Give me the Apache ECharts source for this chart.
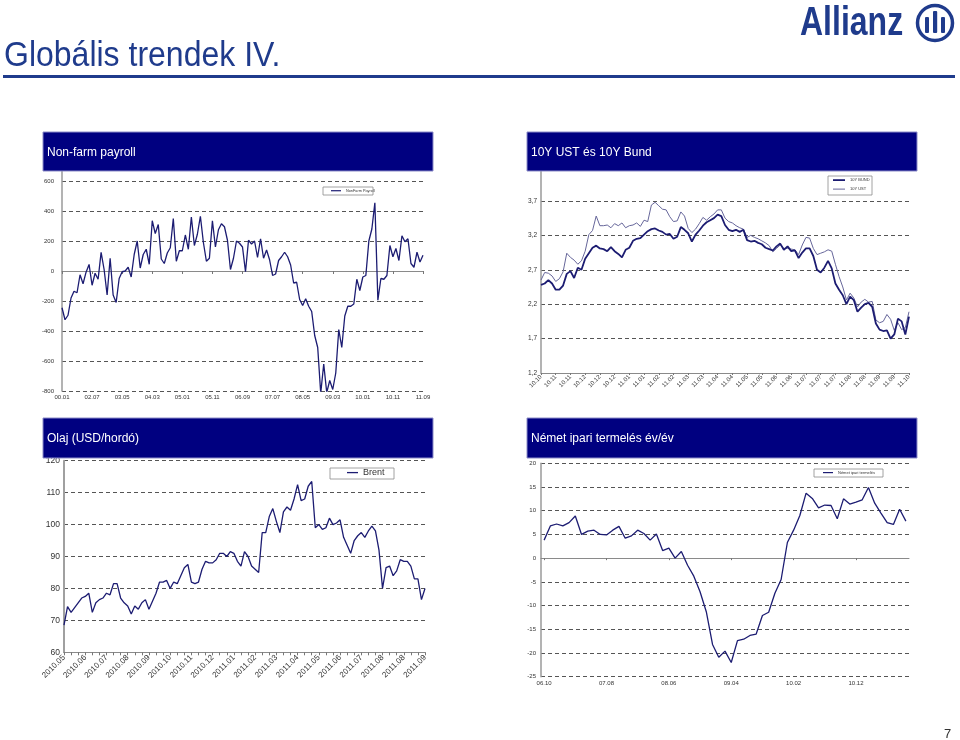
<!DOCTYPE html>
<html><head><meta charset="utf-8">
<script src="https://cdn.jsdelivr.net/npm/echarts@6/dist/echarts.min.js"></script>
<style>html,body{margin:0;padding:0;background:#fff}#c{width:960px;height:740px}</style>
</head><body><div id="c"></div>
<script>
// ---------- DATA ----------
const payrollValues = [
 -245,-325,-295,-180,-135,-145,-25,-85,-8,44,
 -95,-15,-55,124,10,-160,85,-160,-210,-50,
 -5,0,25,-40,110,200,20,110,145,45,
 335,250,310,80,50,120,155,350,65,135,
 135,240,145,360,170,245,365,190,65,85,
 335,160,275,315,295,205,10,85,200,185,
 160,-5,205,180,200,90,215,85,140,75,
 -30,-20,70,95,125,95,40,-80,-75,-190,
 -230,-185,-235,-270,-430,-510,-815,-620,-810,-730,
 -790,-680,-390,-510,-300,-235,-235,-220,-55,-130,
 -40,-30,200,280,455,-195,-50,-55,-30,170,
 95,150,70,235,195,215,50,25,125,60,
 105];
const payrollTickLabels = ["00.01","02.07","03.05","04.03","05.01","05.11","06.09","07.07","08.05","09.03","10.01","10.11","11.09"];

const bundValues = [
 2.48,2.50,2.55,2.50,2.41,2.41,2.47,2.64,2.68,2.58,
 2.73,2.70,2.86,2.94,3.02,3.05,3.01,3.00,2.97,3.03,
 2.97,2.93,2.88,2.99,3.02,3.12,3.15,3.16,3.21,3.26,
 3.29,3.30,3.27,3.25,3.21,3.22,3.15,3.18,3.32,3.28,
 3.23,3.11,3.21,3.27,3.34,3.39,3.42,3.45,3.50,3.48,
 3.35,3.28,3.26,3.28,3.25,3.28,3.13,3.11,3.12,3.09,
 3.07,3.02,3.00,2.98,3.04,3.08,2.99,3.04,2.97,2.98,
 2.87,2.95,3.01,3.01,2.90,2.70,2.66,2.73,2.83,2.72,
 2.50,2.41,2.33,2.20,2.31,2.26,2.09,2.15,2.20,2.22,
 2.16,1.92,1.83,1.81,1.82,1.70,1.76,1.99,1.95,1.76,
 2.02];
const ustValues = [
 2.55,2.66,2.65,2.61,2.53,2.57,2.67,2.94,2.88,2.84,
 2.78,2.83,2.97,3.21,3.27,3.48,3.34,3.34,3.35,3.31,
 3.37,3.34,3.38,3.31,3.34,3.35,3.38,3.33,3.42,3.40,
 3.64,3.68,3.63,3.58,3.57,3.47,3.40,3.41,3.54,3.48,
 3.30,3.24,3.29,3.37,3.46,3.42,3.47,3.51,3.57,3.57,
 3.45,3.40,3.38,3.34,3.31,3.29,3.17,3.20,3.17,3.15,
 3.12,3.09,3.05,2.96,3.01,3.06,3.01,3.01,3.00,2.99,
 2.92,3.06,3.17,3.16,3.01,2.92,2.94,2.96,2.99,2.97,
 2.78,2.60,2.45,2.26,2.36,2.29,2.16,2.23,2.27,2.23,
 2.24,1.97,1.93,1.95,2.05,1.98,1.82,1.93,1.83,1.86,
 2.09];
const yieldTickLabels = ["10.10","10.11","10.11","10.12","10.12","10.12","11.01","11.01","11.02","11.02","11.03","11.03","11.04","11.04","11.05","11.05","11.06","11.06","11.07","11.07","11.07","11.08","11.08","11.09","11.09","11.10"];

const brentValues = [
 68.5,74.3,72.5,74.0,75.5,77.0,77.5,78.5,72.5,75.5,
 76.5,77.0,78.5,78.0,81.5,81.5,77.0,75.5,74.5,72.0,
 74.5,73.5,75.5,76.5,73.5,76.0,78.5,82.0,82.0,82.5,
 80.0,82.0,81.5,84.0,86.5,87.5,82.0,81.5,82.0,86.0,
 88.5,88.0,88.0,89.0,91.0,91.0,90.0,91.5,91.0,88.5,
 87.0,91.5,90.0,87.0,86.0,85.0,97.5,97.5,102.5,105.0,
 101.0,97.5,104.0,105.5,104.5,108.0,112.5,107.5,108.0,112.0,
 113.5,99.0,100.0,98.5,99.0,102.0,100.0,100.5,101.5,96.0,
 93.5,91.0,95.0,96.5,97.5,96.0,98.0,99.5,98.0,92.0,
 80.0,86.5,87.0,84.0,85.5,89.0,88.5,88.5,87.0,83.0,
 83.0,76.5,80.0];
const brentTickLabels = ["2010.05","2010.06","2010.07","2010.08","2010.09","2010.10","2010.11","2010.12","2011.01","2011.02","2011.03","2011.04","2011.05","2011.06","2011.07","2011.08","2011.08","2011.09"];

const germanIpValues = [
 3.8,6.8,7.2,6.8,7.5,8.9,5.0,5.7,5.9,5.0,
 4.9,5.9,6.7,4.2,4.7,5.9,5.2,3.8,5.1,1.6,
 2.1,0.0,1.4,-1.5,-3.8,-7.1,-11.3,-18.2,-20.9,-19.6,
 -22.0,-17.4,-17.1,-16.3,-16.0,-12.1,-11.4,-7.4,-4.5,3.3,
 5.9,9.0,13.7,12.6,10.6,11.2,11.1,8.3,12.5,11.4,
 11.8,12.3,14.9,11.6,9.5,7.5,7.1,10.3,7.8];
const germanTickLabels = ["06.10","07.08","08.06","09.04","10.02","10.12"];

// ---------- STYLE ----------
const FONT = '"Liberation Sans", Arial, sans-serif';
const NAVY = '#1c1c72';
const USTC = '#66669a';
const HEAD = '#000080';
const BRAND = '#1f3b8c';
const idx = arr => arr.map((_, i) => String(i));
const split = {show: true, lineStyle: {color: '#555', type: [4, 3], width: 1}};
const yLine = {show: true, lineStyle: {color: '#9a9a9a', width: 1.5}};
const xLine = {show: true, lineStyle: {color: '#8a8a8a', width: 1}};

function header(x, y, w, h, text) {
  return [
    {type: 'rect', z: 100, shape: {x: x, y: y, width: w, height: h},
     style: {fill: HEAD, stroke: '#8c8cc8', lineWidth: 1}},
    {type: 'text', z: 101, x: x + 4, y: y + h / 2 + 1,
     style: {text: text, fill: '#fff', font: '12px ' + FONT, textVerticalAlign: 'middle', verticalAlign: 'middle'}}
  ];
}
function box(x, y, w, h) {
  return {type: 'rect', z: 100, shape: {x: x, y: y, width: w, height: h},
    style: {fill: 'none', stroke: '#8a8a8a', lineWidth: 0.8}};
}
function legendItem(name, left, cy, fs, iw, ih) {
  const lh = Math.max(fs * 1.2, ih);
  return {data: [{name: name, icon: 'rect'}], left: left, top: cy - lh / 2, padding: 0,
    itemWidth: iw, itemHeight: ih, textStyle: {fontSize: fs, color: '#333'}};
}

const option = {
  animation: false,
  textStyle: {fontFamily: FONT},
  grid: [
    {left: 62, top: 151, width: 361, height: 240, outerBoundsMode: 'none'},
    {left: 541, top: 166.5, width: 368, height: 206.5, outerBoundsMode: 'none'},
    {left: 64, top: 460.7, width: 361, height: 191.6, outerBoundsMode: 'none'},
    {left: 541, top: 463.3, width: 368, height: 213.4, outerBoundsMode: 'none'}
  ],
  xAxis: [
    {gridIndex: 0, type: 'category', data: idx(payrollValues), boundaryGap: false,
     axisLine: xLine, axisTick: {show: true, interval: 9, length: 3, lineStyle: {color: '#777'}},
     axisLabel: {interval: 9, fontSize: 6, color: '#333', margin: 3,
       formatter: (v, i) => payrollTickLabels[i / 10] || ''}, splitLine: {show: false}},
    {gridIndex: 1, type: 'category', data: idx(bundValues), boundaryGap: false,
     axisLine: xLine, axisTick: {show: true, interval: 3, length: 2, lineStyle: {color: '#777'}},
     axisLabel: {interval: 3, fontSize: 6, color: '#333', rotate: 45, margin: 3,
       formatter: (v, i) => yieldTickLabels[i / 4] || ''}, splitLine: {show: false}},
    {gridIndex: 2, type: 'category', data: idx(brentValues), boundaryGap: false,
     axisLine: {show: true, lineStyle: {color: '#8a8a8a', width: 1.2}},
     axisTick: {show: true, interval: 1, length: 3, lineStyle: {color: '#777'}},
     axisLabel: {interval: 5, fontSize: 8, color: '#333', rotate: 45, margin: 4,
       formatter: (v, i) => brentTickLabels[i / 6] || ''}, splitLine: {show: false}},
    {gridIndex: 3, type: 'category', data: idx(germanIpValues), boundaryGap: true,
     axisLine: xLine, axisTick: {show: true, interval: 9, length: 2, alignWithLabel: true, lineStyle: {color: '#777'}},
     axisLabel: {interval: 9, fontSize: 6, color: '#333', margin: 4,
       formatter: (v, i) => germanTickLabels[i / 10] || ''}, splitLine: {show: false}}
  ],
  yAxis: [
    {gridIndex: 0, type: 'value', min: -800, max: 800, interval: 200,
     axisLine: yLine, axisTick: {show: false}, splitLine: split,
     axisLabel: {fontSize: 6, color: '#333', margin: 8, showMaxLabel: false}},
    {gridIndex: 1, type: 'value', min: 1.2, max: 4.2, interval: 0.5,
     axisLine: yLine, axisTick: {show: false}, splitLine: split,
     axisLabel: {fontSize: 6.5, color: '#333', margin: 4, showMaxLabel: false,
       formatter: v => v.toFixed(1).replace('.', ',')}},
    {gridIndex: 2, type: 'value', min: 60, max: 120, interval: 10,
     axisLine: {show: true, lineStyle: {color: '#a0a0a0', width: 2}}, axisTick: {show: false},
     splitLine: split, axisLabel: {fontSize: 8.5, color: '#333', margin: 4}},
    {gridIndex: 3, type: 'value', min: -25, max: 20, interval: 5,
     axisLine: yLine, axisTick: {show: false}, splitLine: split,
     axisLabel: {fontSize: 6, color: '#333', margin: 5}}
  ],
  legend: [
    legendItem('NonFarm Payroll', 331, 191, 3.8, 10, 1.2),
    legendItem('10Y BUND', 833, 180.5, 4, 12, 1.8),
    legendItem('10Y UST', 833, 189.5, 4, 12, 1),
    legendItem('Brent', 347, 473.5, 9, 11, 1.3),
    legendItem('Német ipari termelés', 823, 473, 4, 10, 1.2)
  ],
  series: [
    {name: 'NonFarm Payroll', type: 'line', xAxisIndex: 0, yAxisIndex: 0, data: payrollValues,
     symbol: 'none', showSymbol: false, lineStyle: {color: NAVY, width: 1.3}, itemStyle: {color: NAVY}},
    {name: '10Y UST', type: 'line', xAxisIndex: 1, yAxisIndex: 1, data: ustValues,
     symbol: 'none', showSymbol: false, lineStyle: {color: USTC, width: 1}, itemStyle: {color: USTC}},
    {name: '10Y BUND', type: 'line', xAxisIndex: 1, yAxisIndex: 1, data: bundValues,
     symbol: 'none', showSymbol: false, lineStyle: {color: NAVY, width: 1.8}, itemStyle: {color: NAVY}},
    {name: 'Brent', type: 'line', xAxisIndex: 2, yAxisIndex: 2, data: brentValues,
     symbol: 'none', showSymbol: false, lineStyle: {color: NAVY, width: 1.3}, itemStyle: {color: NAVY}},
    {name: 'Német ipari termelés', type: 'line', xAxisIndex: 3, yAxisIndex: 3, data: germanIpValues,
     symbol: 'none', showSymbol: false, lineStyle: {color: NAVY, width: 1.3}, itemStyle: {color: NAVY}}
  ],
  graphic: {elements: [].concat(
    [{type: 'text', z: 100, x: 4, y: 56,
      style: {text: 'Globális trendek IV.', fill: BRAND, font: '32px ' + FONT, textVerticalAlign: 'middle', verticalAlign: 'middle'},
      scaleY: 1.12},
     {type: 'rect', z: 100, shape: {x: 3, y: 75, width: 952, height: 3}, style: {fill: BRAND}},
     {type: 'text', z: 100, x: 800, y: 24,
      style: {text: 'Allianz', fill: BRAND, font: 'bold 40px ' + FONT, textVerticalAlign: 'middle', verticalAlign: 'middle'},
      scaleX: 0.8},
     {type: 'circle', z: 100, shape: {cx: 935, cy: 23, r: 17.5}, style: {fill: 'none', stroke: BRAND, lineWidth: 3.5}},
     {type: 'rect', z: 100, shape: {x: 925, y: 17, width: 4, height: 16, r: 1}, style: {fill: BRAND}},
     {type: 'rect', z: 100, shape: {x: 933, y: 11, width: 4.2, height: 22, r: 1}, style: {fill: BRAND}},
     {type: 'rect', z: 100, shape: {x: 941, y: 17, width: 4, height: 16, r: 1}, style: {fill: BRAND}},
     {type: 'text', z: 100, x: 944, y: 734,
      style: {text: '7', fill: '#333', font: '13px ' + FONT, textVerticalAlign: 'middle', verticalAlign: 'middle'}},
     box(323, 187, 50, 8),
     box(828, 176, 44, 19),
     box(330, 468, 64, 11),
     box(814, 469, 69, 8)],
    header(43, 132, 390, 39, 'Non-farm payroll'),
    header(527, 132, 390, 39, '10Y UST és 10Y Bund'),
    header(43, 418, 390, 40, 'Olaj (USD/hordó)'),
    header(527, 418, 390, 40, 'Német ipari termelés év/év')
  )}
};
const chart = echarts.init(document.getElementById('c'), null, {renderer: 'canvas'});
chart.setOption(option);
</script>
</body></html>
